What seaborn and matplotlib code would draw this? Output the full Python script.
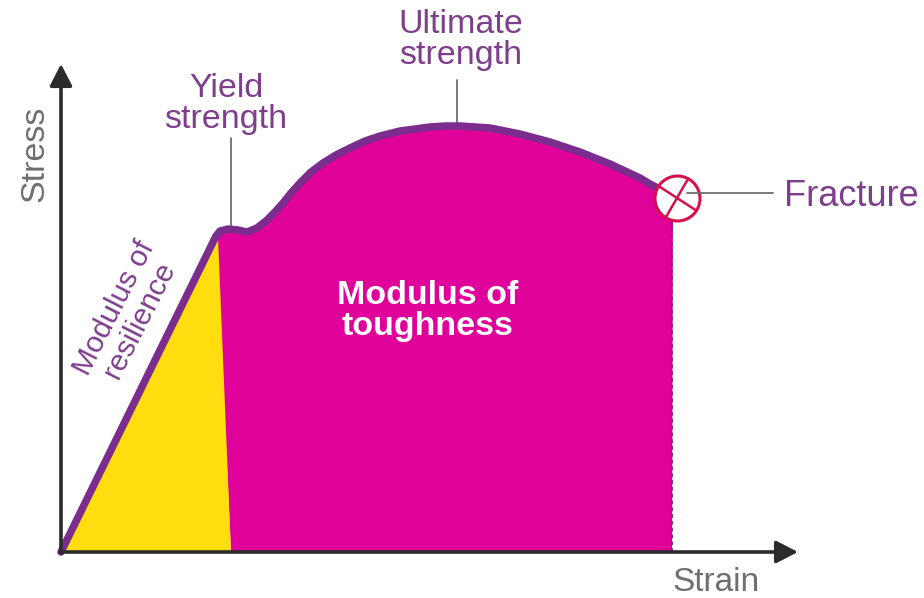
import numpy as np
import pandas as pd
import matplotlib
matplotlib.use('Agg')
import matplotlib.pyplot as plt
import seaborn as sns

# strain / stress (origin at the axes corner)
strain = [0, 155, 159, 167, 177, 186, 196, 206, 214, 222, 230, 239, 250, 262, 275, 289, 304, 319,
          339, 354, 369, 384, 399, 414, 429, 444, 459, 474, 489, 504, 519, 534, 549, 564, 579, 589, 599, 612]
stress = [0, 316, 321, 323, 322, 320, 324, 332, 340, 349, 359, 369, 380, 389, 397, 404, 411, 416,
          421, 423, 425, 426, 426, 425, 424, 421, 418, 414, 410, 405, 400, 394, 388, 381, 374, 368, 363, 355]

# yellow wedge under the elastic line
wedge_strain = [0, 157, 170]
wedge_stress = [0, 315, 0]

fracture_strain = 616
fracture_stress = 354
yield_strain = 170
ultimate_strain = 396

purple = '#7b2d8e'
magenta = '#e0009a'
yellow = '#ffdd0f'
dark = '#2b2b2b'
text_purple = '#7d3f8c'
grey = '#6f6f6f'
red = '#d6104f'

sns.set_theme(style='white')
plt.rcParams['font.family'] = ['Liberation Sans', 'DejaVu Sans']

df = pd.DataFrame({'strain': strain, 'stress': stress})

fig, ax = plt.subplots(figsize=(9.24, 5.98), dpi=100)
ax.set_position([0, 0, 1, 1])
ax.axis('off')

# filled areas
end_strain = 611
tough_x = strain[1:] + [end_strain, wedge_strain[2]]
tough_y = stress[1:] + [0, 0]
ax.fill(tough_x, tough_y, color=magenta, lw=0, zorder=1)
ax.fill(wedge_strain, wedge_stress, color=yellow, lw=0, zorder=2)

# dashed drop from fracture point
ax.plot([end_strain, end_strain], [0, 340], color=purple, lw=1.4, ls=(0, (2, 1.5)), zorder=2)

# axes arrows
arrow = dict(arrowstyle='-|>,head_width=0.34,head_length=0.66', color=dark, lw=2.6,
             shrinkA=0, shrinkB=0, mutation_scale=20)
ax.annotate('', xy=(737, 0), xytext=(-1, 0), zorder=4, arrowprops=arrow)
ax.annotate('', xy=(0, 488), xytext=(0, -1), zorder=4, arrowprops=arrow)

# stress-strain curve
sns.lineplot(data=df, x='strain', y='stress', color=purple, lw=5.4, ax=ax, zorder=3,
             estimator=None, sort=False, legend=False)
ax.set_xlim(-61, 863)
ax.set_ylim(-46, 552)
ax.axis('off')

# fracture marker
ax.scatter([fracture_strain], [fracture_stress], s=1050, facecolor='white', edgecolor=red, lw=2.2, zorder=5)
r = 22
for deg in (-33, 60):
    dx = r * np.cos(np.radians(deg))
    dy = r * np.sin(np.radians(deg))
    ax.plot([fracture_strain - dx, fracture_strain + dx], [fracture_stress - dy, fracture_stress + dy],
            color=red, lw=1.8, zorder=6)

# leader lines
ax.plot([626, 712], [359, 359], color=grey, lw=1.3, zorder=7)
ax.plot([yield_strain, yield_strain], [325, 414], color=grey, lw=1.3, zorder=2)
ax.plot([ultimate_strain, ultimate_strain], [427, 472], color=grey, lw=1.3, zorder=2)

# labels
fs = 24.5
ax.text(723, 356, 'Fracture', color=text_purple, fontsize=26, va='center', ha='left')
ax.text(165, 448, 'Yield\nstrength', color=text_purple, fontsize=fs, va='center', ha='center', linespacing=1.0)
ax.text(400, 512, 'Ultimate\nstrength', color=text_purple, fontsize=fs, va='center', ha='center', linespacing=1.0)
ax.text(367, 241, 'Modulus of\ntoughness', color='white', fontsize=fs, fontweight='bold', va='center', ha='center', linespacing=1.0)
ax.text(66, 238, 'Modulus of\nresilience', color=text_purple, fontsize=21.5, rotation=63, rotation_mode='anchor', va='center', ha='center', linespacing=1.0)
ax.text(-26, 398, 'Stress', color=grey, fontsize=fs, rotation=90, va='center', ha='center')
ax.text(655, -30.5, 'Strain', color=grey, fontsize=24, va='center', ha='center')

fig.savefig('out.png', dpi=100)
